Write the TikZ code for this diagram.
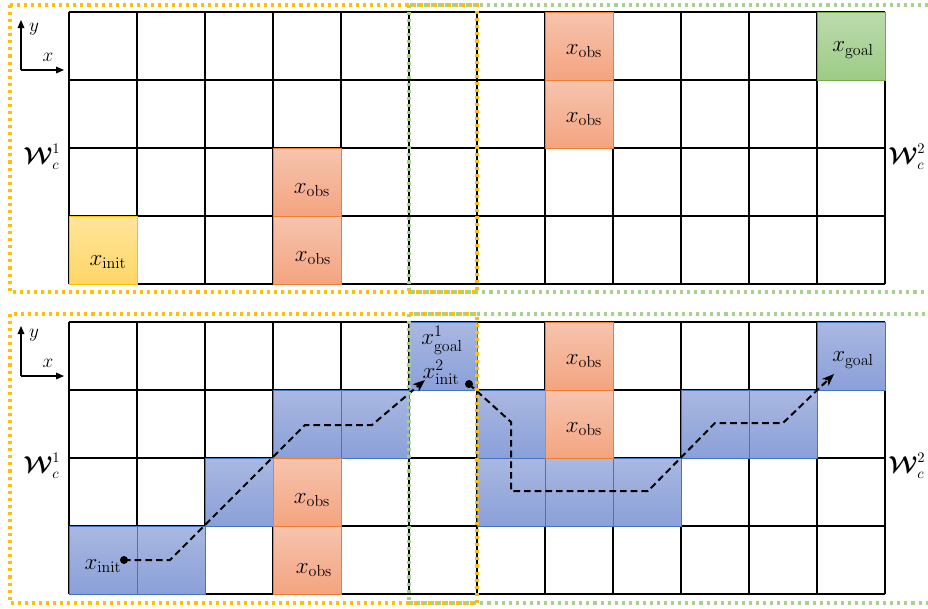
\documentclass[tikz,border=0pt]{standalone}
\usepackage{amsmath,bm}
\usetikzlibrary{arrows.meta}

\definecolor{obsTop}{HTML}{F6C4AF}
\definecolor{obsBot}{HTML}{F4A47F}
\definecolor{obsEdge}{HTML}{ED7D31}
\definecolor{initTop}{HTML}{FFE49B}
\definecolor{initBot}{HTML}{FFD666}
\definecolor{initEdge}{HTML}{FFC000}
\definecolor{goalTop}{HTML}{BCDBAE}
\definecolor{goalBot}{HTML}{9DCB85}
\definecolor{goalEdge}{HTML}{70AD47}
\definecolor{pathTop}{HTML}{AAB8E1}
\definecolor{pathBot}{HTML}{8AA0D9}
\definecolor{pathEdge}{HTML}{4472C4}
\definecolor{frameY}{HTML}{FFC000}
\definecolor{frameG}{HTML}{A9D18E}

% one grid cell: column, row, top edge of the grid, style
\newcommand\gridcell[4]{%
  \path[#4] ({69+68*#1},{#3+68*#2}) rectangle ++(68,68);}

\tikzset{
  obscell/.style={top color=obsTop, bottom color=obsBot, draw=obsEdge, line width=0.7pt},
  initcell/.style={top color=initTop, bottom color=initBot, draw=initEdge, line width=0.7pt},
  goalcell/.style={top color=goalTop, bottom color=goalBot, draw=goalEdge, line width=0.7pt},
  pathcell/.style={top color=pathTop, bottom color=pathBot, draw=pathEdge, line width=0.7pt},
  gridline/.style={draw=black, line width=1.3pt},
  frameyellow/.style={draw=frameY, line width=2.3pt, dash pattern=on 2.3pt off 3pt},
  framegreen/.style={draw=frameG, line width=2.3pt, dash pattern=on 2.3pt off 3pt},
  lbl/.style={inner sep=0pt, font=\fontsize{18.5}{22}\selectfont},
  wlbl/.style={inner sep=0pt, font=\fontsize{16}{20}\selectfont},
  axlbl/.style={inner sep=0pt, font=\fontsize{15}{18}\selectfont},
  axis/.style={line width=0.8pt, -{Triangle[length=6pt,width=5pt]}},
  route/.style={line width=1.5pt, dash pattern=on 5pt off 3pt, -{Stealth[length=9pt,width=7pt,inset=2.5pt]}},
  dotnode/.style={circle, fill=black, inner sep=0pt, minimum size=6pt},
}

\begin{document}
\begin{tikzpicture}[x=0.75pt, y=-0.75pt]
\useasboundingbox (0,0) rectangle (928,608);
\clip (0,0) rectangle (928,608);

% ---------- upper panel ----------
\foreach \c/\r in {7/0, 7/1, 3/2, 3/3} {\gridcell{\c}{\r}{12}{obscell}}
\gridcell{0}{3}{12}{initcell}
\gridcell{11}{0}{12}{goalcell}
\foreach \i in {0,...,12} \draw[gridline] ({69+68*\i},12) -- ({69+68*\i},284);
\foreach \j in {0,...,4} \draw[gridline] (69,{12+68*\j}) -- (885,{12+68*\j});
\foreach \c/\r in {7/0, 7/1, 3/2, 3/3} {\gridcell{\c}{\r}{12}{obscell}}
\gridcell{0}{3}{12}{initcell}
\gridcell{11}{0}{12}{goalcell}

\node[lbl] (obsA) at (584,51) {$x_{\mathrm{obs}}$};
\node[lbl] (obsB) at (584,119) {$x_{\mathrm{obs}}$};
\node[lbl] (obsC) at (312,190) {$x_{\mathrm{obs}}$};
\node[lbl] (obsD) at (313,258) {$x_{\mathrm{obs}}$};
\node[lbl] (initU) at (108,262) {$x_{\mathrm{init}}$};
\node[lbl] (goalU) at (853,50) {$x_{\mathrm{goal}}$};

\node[wlbl] (wA) at (42,157) {$\bm{\mathcal{W}}_c^1$};
\node[wlbl] (wB) at (907,157) {$\bm{\mathcal{W}}_c^2$};

\coordinate (oU) at (21,70);
\coordinate (axU) at (64,70);
\coordinate (ayU) at (21,20);
\draw[axis] (oU) -- (axU);
\draw[axis] (oU) -- (ayU);
\node[axlbl] (xU) at (48,57) {$x$};
\node[axlbl] (yU) at (34,29) {$y$};

\draw[framegreen] (409,5) rectangle (940,292);
\draw[frameyellow] (10,5) rectangle (477,292);

% ---------- lower panel ----------
\foreach \c/\r in {0/3, 1/3, 2/2, 3/1, 4/1, 5/0, 6/1, 6/2, 7/2, 8/2, 9/1, 10/1, 11/0}
  {\gridcell{\c}{\r}{322}{pathcell}}
\foreach \c/\r in {7/0, 7/1, 3/2, 3/3} {\gridcell{\c}{\r}{322}{obscell}}
\foreach \i in {0,...,12} \draw[gridline] ({69+68*\i},322) -- ({69+68*\i},594);
\foreach \j in {0,...,4} \draw[gridline] (69,{322+68*\j}) -- (885,{322+68*\j});
\foreach \c/\r in {0/3, 1/3, 2/2, 3/1, 4/1, 5/0, 6/1, 6/2, 7/2, 8/2, 9/1, 10/1, 11/0}
  {\gridcell{\c}{\r}{322}{pathcell}}
\foreach \c/\r in {7/0, 7/1, 3/2, 3/3} {\gridcell{\c}{\r}{322}{obscell}}

\node[lbl] (obsE) at (584,361) {$x_{\mathrm{obs}}$};
\node[lbl] (obsF) at (584,429) {$x_{\mathrm{obs}}$};
\node[lbl] (obsG) at (312,500) {$x_{\mathrm{obs}}$};
\node[lbl] (obsH) at (314,570) {$x_{\mathrm{obs}}$};
\node[lbl] (initL) at (103,566) {$x_{\mathrm{init}}$};
\node[lbl] (goalL) at (853,360) {$x_{\mathrm{goal}}$};
\node[lbl] (subgoal) at (442,340) {$x_{\mathrm{goal}}^1$};
\node[lbl] (subinit) at (441,372) {$x_{\mathrm{init}}^2$};

\node[wlbl] (wC) at (42,466) {$\bm{\mathcal{W}}_c^1$};
\node[wlbl] (wD) at (907,466) {$\bm{\mathcal{W}}_c^2$};

\coordinate (oL) at (21,376);
\coordinate (axL) at (64,376);
\coordinate (ayL) at (21,326);
\draw[axis] (oL) -- (axL);
\draw[axis] (oL) -- (ayL);
\node[axlbl] (xL) at (48,363) {$x$};
\node[axlbl] (yL) at (34,335) {$y$};

% first sub-route: start to the shared cell
\node[dotnode] (startA) at (124,560) {};
\coordinate (a1) at (170,560);
\coordinate (a2) at (305,425);
\coordinate (a3) at (372,425);
\coordinate (endA) at (425,380);
\draw[route] (startA.center) -- (a1) -- (a2) -- (a3) -- (endA);

% second sub-route: shared cell to the goal
\node[dotnode] (startB) at (469,384) {};
\coordinate (b1) at (511,422);
\coordinate (b2) at (511,491);
\coordinate (b3) at (648,491);
\coordinate (b4) at (715,423);
\coordinate (b5) at (783,423);
\coordinate (endB) at (834,374);
\draw[route] (startB.center) -- (b1) -- (b2) -- (b3) -- (b4) -- (b5) -- (endB);

\draw[framegreen] (409,314) rectangle (940,603);
\draw[frameyellow] (10,314) rectangle (477,603);
\end{tikzpicture}
\end{document}
